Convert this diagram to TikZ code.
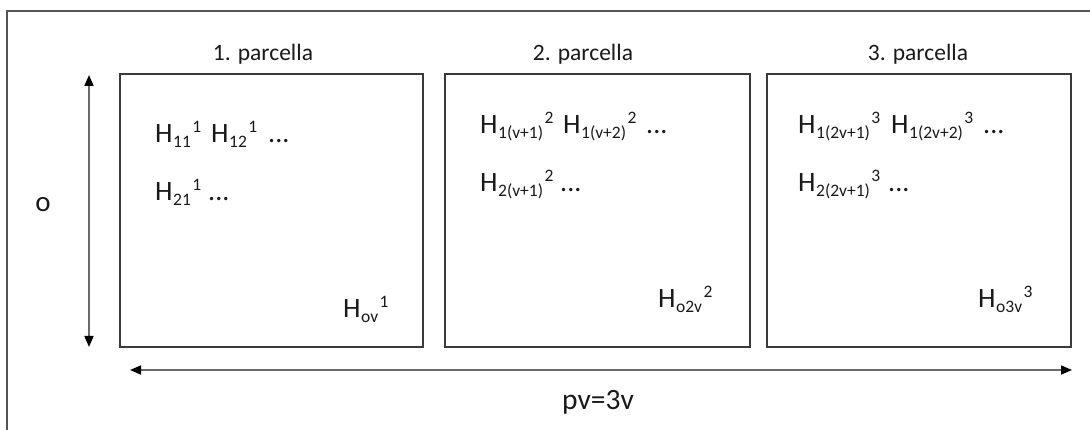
\documentclass[tikz,border=0pt]{standalone}
\usepackage{fontspec}
\setmainfont{Carlito}
\usetikzlibrary{arrows.meta}
\definecolor{lineC}{HTML}{3A3A3A}
\definecolor{frameC}{HTML}{555555}
\definecolor{arrC}{HTML}{6A6A6A}
\definecolor{txtC}{HTML}{1A1A1A}
\newcommand\subsz{\fontsize{17.5}{17.5}\selectfont}
\newcommand\Hterm[2]{H\kern0.5pt\raisebox{-5pt}{\subsz #1}\kern1.5pt\raisebox{10pt}{\subsz #2}}
\begin{document}
\begin{tikzpicture}[x=1pt,y=-1pt,
  panel/.style={draw=lineC,line width=1.3pt,minimum height=273pt,inner sep=0pt},
  title/.style={anchor=base,text=txtC,font=\fontsize{23.5}{26}\selectfont},
  hterm/.style={anchor=base west,text=txtC,inner sep=0pt,font=\fontsize{28}{30}\selectfont},
  dimarrow/.style={draw=arrC,line width=1.6pt,{Triangle[length=11pt,width=9pt,color=black]}-{Triangle[length=11pt,width=9pt,color=black]}}
]
\useasboundingbox (0,0) rectangle (1090,430);
\clip (0,0) rectangle (1090,430);
\fill[white] (0,0) rectangle (1090,430);
% outer frame (extends past right and bottom edges)
\draw[frameC,line width=1.8pt] (1100,11) -- (7,11) -- (7,440);

% panels
\node[panel,minimum width=303pt] (p1) at (271.5,210.5) {};
\node[panel,minimum width=305pt] (p2) at (597.5,210.5) {};
\node[panel,minimum width=304pt] (p3) at (919,210.5) {};

% titles
\node[title] (t1) at (263,61) {1. parcella};
\node[title] (t2) at (583,61) {2. parcella};
\node[title] (t3) at (918,61) {3. parcella};

% panel 1 contents
\node[hterm] (a11) at (155,143) {\Hterm{11}{1}};
\node[hterm] (a12) at (211,143) {\Hterm{12}{1}};
\node[hterm] (a1d) at (268,143) {...};
\node[hterm] (a21) at (155,201) {\Hterm{21}{1}};
\node[hterm] (a2d) at (208,201) {...};
\node[hterm] (aov) at (343,318) {\Hterm{ov}{1}};

% panel 2 contents
\node[hterm] (b11) at (480,134) {\Hterm{1(v+1)}{2}};
\node[hterm] (b12) at (563,134) {\Hterm{1(v+2)}{2}};
\node[hterm] (b1d) at (646,134) {...};
\node[hterm] (b21) at (480,192) {\Hterm{2(v+1)}{2}};
\node[hterm] (b2d) at (560,192) {...};
\node[hterm] (bov) at (658,308) {\Hterm{o2v}{2}};

% panel 3 contents
\node[hterm] (c11) at (798,134) {\Hterm{1(2v+1)}{3}};
\node[hterm] (c12) at (891,134) {\Hterm{1(2v+2)}{3}};
\node[hterm] (c1d) at (983,134) {...};
\node[hterm] (c21) at (798,192) {\Hterm{2(2v+1)}{3}};
\node[hterm] (c2d) at (888,192) {...};
\node[hterm] (cov) at (978,308) {\Hterm{o3v}{3}};

% dimension arrows
\coordinate (oTop) at (89,75);
\coordinate (oBot) at (89,347);
\draw[dimarrow] (oTop) -- (oBot);
\node[text=txtC,font=\fontsize{29}{30}\selectfont] (olab) at (43,205) {o};

\coordinate (pvL) at (130,370);
\coordinate (pvR) at (1072,370);
\draw[dimarrow] (pvL) -- (pvR);
\node[text=txtC,font=\fontsize{29.5}{32}\selectfont] (pvlab) at (598,402) {pv=3v};
\end{tikzpicture}
\end{document}
